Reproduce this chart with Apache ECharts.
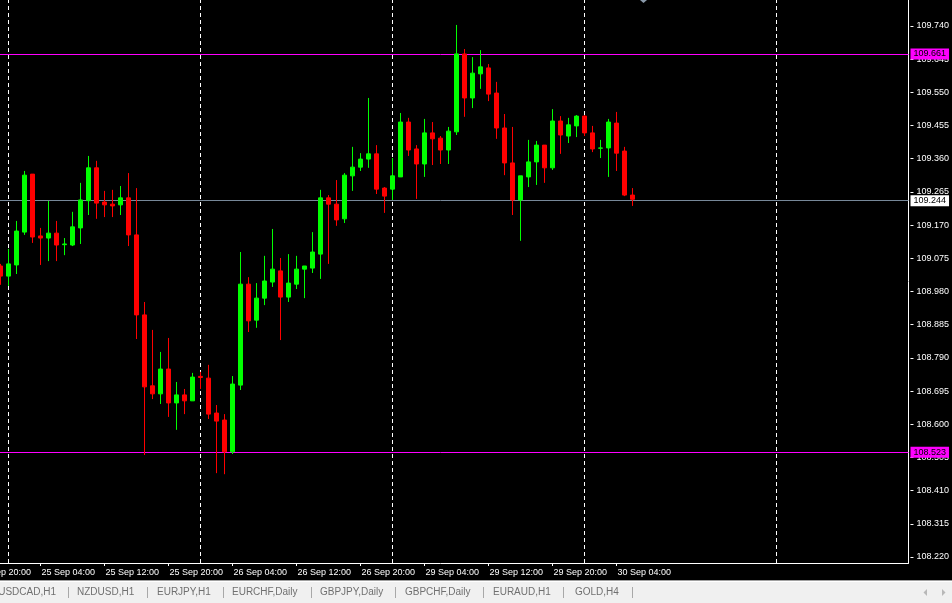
<!DOCTYPE html>
<html><head><meta charset="utf-8">
<script src="https://cdn.jsdelivr.net/npm/echarts@6/dist/echarts.min.js"></script>
<style>html,body{margin:0;padding:0;background:#000;overflow:hidden;width:952px;height:603px}#c{position:absolute;left:-28px;top:0;width:980px;height:603px;}</style>
</head><body><div id="c"></div>
<script>
// ---- categories (hourly bars, weekend skipped) ----
const days = ['24 Sep', '25 Sep', '26 Sep', '29 Sep', '30 Sep', '1 Oct'];
const firstHour = 20;          // first category is 24 Sep 20:00
const categoryCount = 117;     // includes empty future slots
const categories = [];
for (let d = 0; d < days.length && categories.length < categoryCount; d++) {
  for (let h = (d === 0 ? firstHour : 0); h < 24 && categories.length < categoryCount; h++) {
    categories.push(days[d] + ' ' + String(h).padStart(2, '0') + ':00');
  }
}
const firstBar = '24 Sep 23:00';

// ---- USDJPY H1 OHLC ----
const open = [
  109.053, 109.024, 109.056, 109.150, 109.316, 109.139, 109.133, 109.147, 109.114, 109.113,
  109.162, 109.240, 109.334, 109.236, 109.230, 109.228, 109.248, 109.142, 108.913, 108.710,
  108.687, 108.758, 108.661, 108.684, 108.667, 108.737, 108.732, 108.632, 108.612, 108.521,
  108.712, 109.001, 108.898, 108.961, 109.007, 109.039, 108.964, 109.001, 109.044, 109.047,
  109.087, 109.248, 109.230, 109.188, 109.311, 109.336, 109.359, 109.374, 109.276, 109.273,
  109.308, 109.465, 109.388, 109.345, 109.434, 109.419, 109.385, 109.437, 109.660, 109.534,
  109.603, 109.620, 109.548, 109.448, 109.348, 109.242, 109.308, 109.351, 109.399, 109.334,
  109.468, 109.425, 109.454, 109.482, 109.434, 109.390, 109.391, 109.462, 109.382, 109.256
];
const close = [
  109.024, 109.059, 109.153, 109.313, 109.136, 109.133, 109.147, 109.113, 109.116, 109.165,
  109.242, 109.334, 109.233, 109.228, 109.225, 109.248, 109.142, 108.913, 108.707, 108.687,
  108.758, 108.661, 108.684, 108.667, 108.735, 108.734, 108.629, 108.609, 108.521, 108.715,
  109.001, 108.896, 108.961, 109.010, 109.044, 108.964, 109.004, 109.044, 109.053, 109.093,
  109.248, 109.230, 109.185, 109.313, 109.336, 109.359, 109.374, 109.273, 109.253, 109.311,
  109.465, 109.385, 109.345, 109.434, 109.417, 109.385, 109.439, 109.660, 109.534, 109.605,
  109.623, 109.545, 109.448, 109.348, 109.242, 109.311, 109.351, 109.399, 109.334, 109.468,
  109.428, 109.457, 109.482, 109.434, 109.388, 109.391, 109.465, 109.376, 109.256, 109.244
];
const low = [
  108.999, 108.996, 109.030, 109.142, 109.119, 109.056, 109.067, 109.067, 109.084, 109.110,
  109.116, 109.199, 109.188, 109.193, 109.193, 109.199, 109.110, 108.844, 108.512, 108.672,
  108.658, 108.621, 108.584, 108.629, 108.667, 108.701, 108.615, 108.460, 108.457, 108.515,
  108.698, 108.864, 108.876, 108.941, 108.993, 108.841, 108.950, 108.987, 108.961, 109.033,
  109.016, 109.059, 109.168, 109.176, 109.268, 109.325, 109.334, 109.259, 109.205, 109.242,
  109.308, 109.368, 109.245, 109.308, 109.342, 109.345, 109.345, 109.428, 109.480, 109.505,
  109.560, 109.525, 109.417, 109.313, 109.199, 109.125, 109.279, 109.285, 109.291, 109.328,
  109.374, 109.405, 109.422, 109.425, 109.379, 109.362, 109.308, 109.325, 109.253, 109.225
];
const high = [
  109.059, 109.102, 109.182, 109.325, 109.316, 109.162, 109.239, 109.182, 109.133, 109.208,
  109.291, 109.368, 109.354, 109.268, 109.271, 109.282, 109.319, 109.276, 108.950, 108.870,
  108.807, 108.847, 108.721, 108.701, 108.747, 108.750, 108.770, 108.655, 108.629, 108.738,
  109.093, 109.021, 109.004, 109.082, 109.159, 109.076, 109.087, 109.082, 109.053, 109.150,
  109.271, 109.256, 109.299, 109.319, 109.394, 109.376, 109.534, 109.399, 109.279, 109.362,
  109.491, 109.477, 109.399, 109.474, 109.465, 109.425, 109.451, 109.743, 109.674, 109.651,
  109.671, 109.631, 109.580, 109.488, 109.451, 109.311, 109.414, 109.411, 109.399, 109.502,
  109.482, 109.477, 109.485, 109.485, 109.454, 109.414, 109.474, 109.494, 109.394, 109.276
];

// ---- reference lines ----
const daySeparators = ['25 Sep 00:00', '26 Sep 00:00', '29 Sep 00:00', '30 Sep 00:00', '1 Oct 00:00'];
const levelLines = [109.661, 108.523];
const bidPrice = 109.244;

// ---- price scale ticks ----
const yTickMin = 108.220, yTickMax = 109.740, yTickStep = 0.095;

// ---- terminal tabs ----
const tabs = ['USDCAD,H1', 'NZDUSD,H1', 'EURJPY,H1', 'EURCHF,Daily', 'GBPJPY,Daily', 'GBPCHF,Daily', 'EURAUD,H1', 'GOLD,H4'];

// build series data
const startIdx = categories.indexOf(firstBar);
const candles = [];
for (let k = 0; k < startIdx; k++) candles.push(['-', '-', '-', '-']);
open.forEach((o, i) => candles.push([o, close[i], low[i], high[i]]));
const lastIdx = startIdx + open.length - 1;

const labelInterval = (idx, val) => idx <= lastIdx && parseInt(val.slice(-5, -3), 10) % 8 === 4;

const FONT = 'Liberation Sans, Arial, sans-serif';
const OX = 28; // the chart canvas starts 28px left of the window

// layout of the tab strip (window coordinates)
const tabLayout = [
  { x: 56, align: 'right' }, { x: 77 }, { x: 157 }, { x: 232 }, { x: 320 }, { x: 405 }, { x: 493 }, { x: 575 }
];
const sepX = [68, 147, 223, 311, 395, 483, 563, 632];

const graphic = [
  { type: 'rect', shape: { x: 0, y: 581, width: 980, height: 22 }, style: { fill: '#f0f0f0' }, silent: true, z: 10 },
  { type: 'line', shape: { x1: 0, y1: 580.5, x2: 980, y2: 580.5 }, style: { stroke: '#a0a0a0', lineWidth: 1 }, z: 11 },
  { type: 'line', shape: { x1: 0, y1: 581.5, x2: 980, y2: 581.5 }, style: { stroke: '#ffffff', lineWidth: 1 }, z: 11 },
  { type: 'polygon', shape: { points: [[OX + 640, 0], [OX + 647, 0], [OX + 643.5, 3]] }, style: { fill: '#8a9aaa' }, z: 11 },
  { type: 'polygon', shape: { points: [[OX + 927, 589], [OX + 927, 596], [OX + 923.5, 592.5]] }, style: { fill: '#b8b8b8' }, z: 11 },
  { type: 'polygon', shape: { points: [[OX + 942, 589], [OX + 942, 596], [OX + 945.5, 592.5]] }, style: { fill: '#b8b8b8' }, z: 11 }
];
tabs.forEach((t, i) => {
  graphic.push({
    type: 'text', x: OX + tabLayout[i].x, y: 592.5, z: 11,
    style: { text: t, fill: '#707070', font: '10px ' + FONT, align: tabLayout[i].align || 'left', verticalAlign: 'middle' }
  });
});
sepX.forEach(x => {
  graphic.push({ type: 'line', shape: { x1: OX + x + 0.5, y1: 587, x2: OX + x + 0.5, y2: 598 }, style: { stroke: '#a8a8a8', lineWidth: 1 }, z: 11 });
});

const priceLabel = (bg, v) => ({
  show: true, position: 'end', distance: 2, color: '#000', backgroundColor: bg,
  padding: [1, 3, 0, 3], fontFamily: FONT, fontSize: 9, lineHeight: 10,
  formatter: v.toFixed(3)
});

const markData = [];
daySeparators.forEach(c => markData.push({ xAxis: c, lineStyle: { color: '#ffffff', type: [4, 3], width: 1 }, label: { show: false } }));
levelLines.forEach(v => markData.push({ yAxis: v, lineStyle: { color: '#ff00ff', type: 'solid', width: 1 }, label: priceLabel('#ff00ff', v) }));
markData.push({ yAxis: bidPrice, lineStyle: { color: '#778899', type: 'solid', width: 1 }, label: priceLabel('#ffffff', bidPrice) });

const chart = echarts.init(document.getElementById('c'), null, { renderer: 'canvas' });
chart.setOption({
  backgroundColor: '#000000',
  animation: false,
  grid: [
    { left: 0.5, right: 43.5, top: 0, bottom: 40 },
    { left: 0.5, right: 40, top: 26, bottom: 46 }
  ],
  xAxis: [
    {
      type: 'category', data: categories, gridIndex: 0, boundaryGap: true,
      axisLine: { show: true, onZero: false, lineStyle: { color: '#ffffff', width: 1 } },
      axisTick: { show: true, alignWithLabel: true, interval: labelInterval, length: 3, lineStyle: { color: '#ffffff' } },
      axisLabel: { show: true, interval: labelInterval, color: '#ffffff', fontFamily: FONT, fontSize: 9, align: 'left', margin: 5, padding: [0, 0, 0, 1] },
      splitLine: { show: false }
    },
    { type: 'value', gridIndex: 1, show: false, min: 0, max: 1 }
  ],
  yAxis: [
    {
      type: 'value', gridIndex: 0, position: 'right', min: 108.2028, max: 109.8144,
      axisLine: { show: true, onZero: false, lineStyle: { color: '#ffffff', width: 1 } },
      axisTick: { show: false }, axisLabel: { show: false }, splitLine: { show: false }
    },
    {
      type: 'value', gridIndex: 1, position: 'right', min: yTickMin, max: yTickMax, interval: yTickStep,
      axisLine: { show: false, onZero: false },
      axisTick: { show: true, length: 3, lineStyle: { color: '#ffffff' } },
      axisLabel: { color: '#ffffff', fontFamily: FONT, fontSize: 9, margin: 6, formatter: v => v.toFixed(3) },
      splitLine: { show: false }
    }
  ],
  series: [
    {
      type: 'candlestick', xAxisIndex: 0, yAxisIndex: 0, data: candles,
      barWidth: 4,
      itemStyle: { color: '#00ff00', color0: '#ff0000', borderColor: '#00ff00', borderColor0: '#ff0000', borderWidth: 1 },
      markLine: { symbol: ['none', 'none'], silent: true, animation: false, z: 1, data: markData }
    }
  ],
  graphic: graphic
});
</script>
</body></html>
